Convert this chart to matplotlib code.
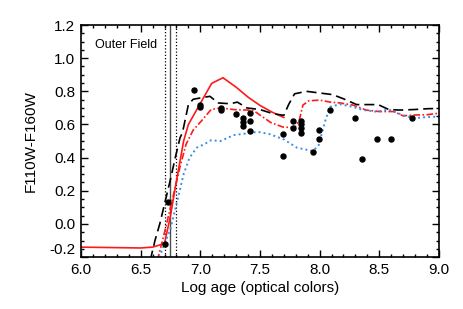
import matplotlib
matplotlib.use("Agg")
import matplotlib.pyplot as plt
from matplotlib.ticker import MultipleLocator, FormatStrFormatter

# black dashed model
blk_x = [6.58, 6.62, 6.66, 6.70, 6.75, 6.79, 6.83, 6.85, 6.90, 6.94, 7.00, 7.08, 7.15, 7.25,
         7.31, 7.39, 7.50, 7.61, 7.70, 7.74, 7.79, 7.89, 8.00, 8.11, 8.20, 8.31, 8.40, 8.49,
         8.58, 8.67, 8.79, 8.90, 9.00]
blk_y = [-0.22, -0.10, 0.00, 0.12, 0.27, 0.40, 0.52, 0.55, 0.72, 0.752, 0.76, 0.77, 0.73, 0.725,
         0.735, 0.70, 0.69, 0.665, 0.655, 0.72, 0.785, 0.80, 0.79, 0.78, 0.755, 0.72, 0.72, 0.72,
         0.69, 0.687, 0.69, 0.695, 0.697]

# red solid model
red_x = [6.0, 6.5, 6.6, 6.70, 6.75, 6.80, 6.86, 6.90, 7.095, 7.19, 7.30, 7.40, 7.50, 7.60, 7.70]
red_y = [-0.14, -0.145, -0.14, -0.118, 0.05, 0.26, 0.50, 0.60, 0.848, 0.882, 0.825, 0.765,
         0.715, 0.675, 0.642]

# red dash-dot model
rdd_x = [6.64, 6.69, 6.73, 6.77, 6.83, 6.88, 6.94, 7.02, 7.09, 7.17, 7.28, 7.39, 7.44, 7.50,
         7.59, 7.69, 7.79, 7.83, 7.86, 7.91, 8.00, 8.09, 8.17, 8.28, 8.39, 8.50, 8.62, 8.70,
         8.79, 8.90, 9.00]
rdd_y = [-0.22, -0.08, 0.04, 0.16, 0.345, 0.48, 0.566, 0.63, 0.69, 0.70, 0.69, 0.687, 0.687,
         0.657, 0.612, 0.585, 0.58, 0.627, 0.717, 0.743, 0.747, 0.735, 0.73, 0.717, 0.687, 0.678,
         0.678, 0.652, 0.657, 0.659, 0.668]

# blue dotted model
blu_x = [6.64, 6.70, 6.75, 6.80, 6.86, 6.91, 6.97, 7.03, 7.09, 7.17, 7.28, 7.39, 7.48, 7.58,
         7.70, 7.81, 7.94, 7.99, 8.02, 8.05, 8.09, 8.17, 8.25, 8.37, 8.48, 8.58, 8.70, 8.79,
         8.90, 9.00]
blu_y = [-0.23, -0.12, -0.03, 0.12, 0.30, 0.40, 0.46, 0.48, 0.505, 0.50, 0.536, 0.546, 0.556,
         0.542, 0.51, 0.46, 0.44, 0.47, 0.55, 0.63, 0.707, 0.722, 0.711, 0.687, 0.677, 0.69,
         0.656, 0.638, 0.645, 0.648]

# clusters
pts_x = [6.70, 6.73, 6.945, 7.00, 7.00, 7.17, 7.17, 7.30, 7.36, 7.36, 7.36, 7.415, 7.415,
         7.415, 7.695, 7.695, 7.775, 7.775, 7.845, 7.845, 7.845, 7.845, 7.947, 7.997, 7.997,
         8.09, 8.296, 8.357, 8.477, 8.598, 8.777]
pts_y = [-0.12, 0.13, 0.81, 0.72, 0.705, 0.70, 0.69, 0.665, 0.64, 0.615, 0.59, 0.67, 0.62,
         0.56, 0.54, 0.41, 0.62, 0.577, 0.62, 0.60, 0.577, 0.55, 0.435, 0.566, 0.51, 0.687,
         0.637, 0.39, 0.51, 0.51, 0.637]

vlines_dot = [6.70, 6.80]
vline_solid = 6.75

plt.rcParams.update({
    "font.family": ["Liberation Sans", "DejaVu Sans"],
    "font.size": 11,
})

fig = plt.figure(figsize=(4.63, 3.09), dpi=100)
ax = fig.add_axes([0.175, 0.168, 0.773, 0.751])

for xv in vlines_dot:
    ax.axvline(xv, color="black", lw=0.9, linestyle=(0, (1, 1.6)))
ax.axvline(vline_solid, color="0.3", lw=1.0)

ax.plot(red_x, red_y, color="#ff1a1a", lw=1.2)
ax.plot(blk_x, blk_y, color="black", lw=1.2, linestyle=(0, (6, 3)))
ax.plot(rdd_x, rdd_y, color="#ff1a1a", lw=1.2, linestyle=(0, (4, 1.4, 1, 1.4)))
ax.plot(blu_x, blu_y, color="#3a8ee6", lw=1.4, linestyle=(0, (1, 1.6)))
ax.plot(pts_x, pts_y, "o", color="black", markersize=3.6, linestyle="none")

ax.text(6.12, 1.08, "Outer Field", fontsize=9, ha="left", va="center")

ax.set_xlim(6.0, 9.0)
ax.set_ylim(-0.2, 1.2)
ax.xaxis.set_major_locator(MultipleLocator(0.5))
ax.xaxis.set_minor_locator(MultipleLocator(0.1))
ax.yaxis.set_major_locator(MultipleLocator(0.2))
ax.yaxis.set_minor_locator(MultipleLocator(0.05))
ax.xaxis.set_major_formatter(FormatStrFormatter("%.1f"))
ax.yaxis.set_major_formatter(FormatStrFormatter("%.1f"))
ax.tick_params(which="both", direction="in", top=True, right=True, width=1.0)
ax.tick_params(which="major", length=5, labelsize=11, pad=4)
ax.tick_params(which="minor", length=2.5)
for s in ax.spines.values():
    s.set_linewidth(1.2)

# IDL puts the bottom y label a bit higher
ylabs = ax.get_yticklabels()
fig.canvas.draw()
for lab in ax.get_yticklabels():
    if lab.get_text().startswith("-0.2") or lab.get_text().startswith("\u22120.2"):
        lab.set_va("bottom")

ax.set_xlabel("Log age (optical colors)", fontsize=11, labelpad=3)
ax.set_ylabel("F110W-F160W", fontsize=11, labelpad=8)

fig.savefig("out.png", dpi=100)
